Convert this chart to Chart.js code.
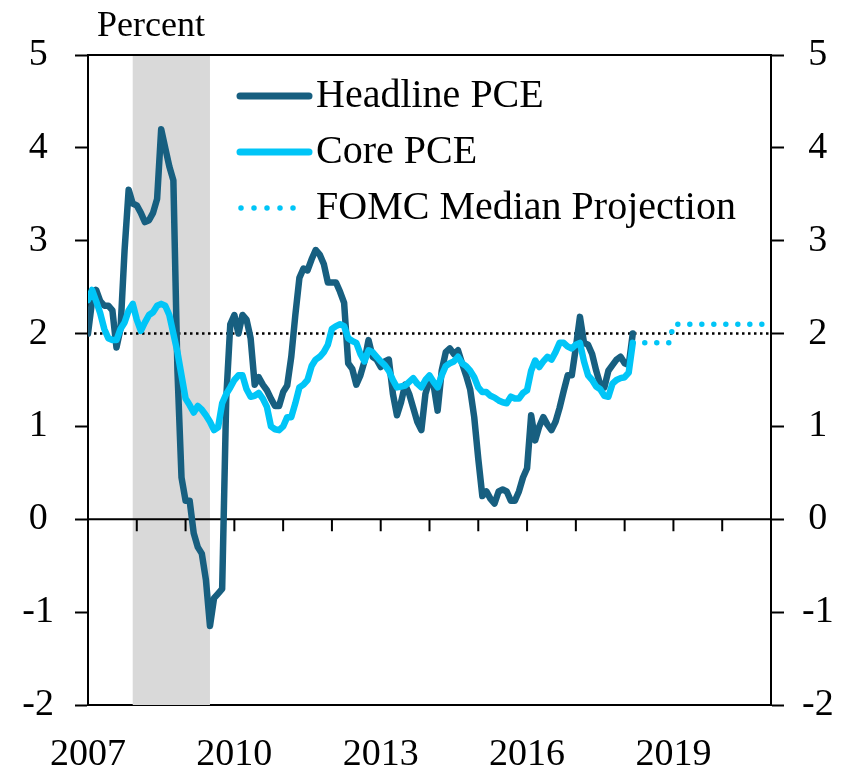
<!DOCTYPE html>
<html>
<head>
<meta charset="utf-8">
<title>PCE inflation</title>
<script src="https://cdn.jsdelivr.net/npm/chart.js@4.4.1/dist/chart.umd.min.js"></script>
<style>
  html, body { margin: 0; padding: 0; background: #fff; }
  #wrap { position: relative; width: 852px; height: 771px; }
</style>
</head>
<body>
<div id="wrap"><canvas id="chart"></canvas></div>
<script>
// monthly, 12-month percent change, starting Jan 2007
const startYear = 2007;

const headline = [
  2.0, 2.35, 2.47, 2.35, 2.3, 2.3, 2.25, 1.85, 2.05, 2.9, 3.55, 3.4,
  3.38, 3.3, 3.2, 3.22, 3.3, 3.45, 4.2, 4.0, 3.8, 3.65, 1.6, 0.45,
  0.2, 0.2, -0.15, -0.3, -0.37, -0.65, -1.15, -0.85, -0.8, -0.75, 1.3, 2.1,
  2.2, 2.0, 2.2, 2.15, 1.95, 1.45, 1.53, 1.45, 1.39, 1.3, 1.22, 1.22,
  1.37, 1.44, 1.75, 2.2, 2.6, 2.7, 2.68, 2.8, 2.9, 2.85, 2.75, 2.55,
  2.55, 2.55, 2.45, 2.33, 1.68, 1.62, 1.45, 1.55, 1.7, 1.93, 1.75, 1.72,
  1.64, 1.7, 1.72, 1.35, 1.12, 1.26, 1.45, 1.35, 1.2, 1.05, 0.96, 1.35,
  1.5, 1.45, 1.17, 1.6, 1.8, 1.84, 1.78, 1.82, 1.68, 1.55, 1.4, 1.1,
  0.65, 0.25, 0.3, 0.22, 0.17, 0.3, 0.32, 0.3, 0.2, 0.2, 0.3, 0.45,
  0.55, 1.12, 0.85, 1.0, 1.1, 1.02, 0.96, 1.05, 1.2, 1.38, 1.55, 1.55,
  1.85, 2.18, 1.9, 1.88, 1.78, 1.6, 1.45, 1.42, 1.6, 1.66, 1.72, 1.75,
  1.68, 1.66, 2.0
];

const core = [
  2.36, 2.47, 2.35, 2.22, 2.05, 1.95, 1.93, 1.93, 2.05, 2.12, 2.25, 2.32,
  2.15, 2.03, 2.12, 2.2, 2.23, 2.3, 2.32, 2.3, 2.2, 2.0, 1.8, 1.55,
  1.3, 1.23, 1.15, 1.22, 1.18, 1.12, 1.05, 0.96, 0.99, 1.25, 1.35, 1.42,
  1.5, 1.55, 1.55, 1.4, 1.32, 1.33, 1.36, 1.3, 1.21, 1.0, 0.97, 0.96,
  1.0, 1.1, 1.1, 1.25, 1.42, 1.45, 1.5, 1.65, 1.72, 1.75, 1.8, 1.88,
  2.05, 2.08, 2.1, 2.08, 1.95, 1.92, 1.9, 1.78, 1.7, 1.82, 1.8, 1.75,
  1.7, 1.66, 1.6, 1.5, 1.42, 1.43, 1.44, 1.48, 1.52, 1.46, 1.42, 1.5,
  1.55, 1.48, 1.42, 1.55, 1.65, 1.68, 1.7, 1.75, 1.68, 1.65, 1.6, 1.53,
  1.42, 1.37, 1.37, 1.33, 1.31, 1.28, 1.26, 1.25, 1.32, 1.3, 1.3, 1.36,
  1.39, 1.6, 1.71, 1.64, 1.7, 1.75, 1.72, 1.8, 1.9, 1.9, 1.86, 1.84,
  1.88, 1.9, 1.7, 1.55, 1.5, 1.43, 1.4, 1.33, 1.32, 1.46, 1.5, 1.52,
  1.53, 1.58, 1.9
];

// FOMC median projection, monthly from Mar 2018 to Jan 2021
const fomcStartMonth = 134;
const fomc = [
  1.9, 1.9, 1.9, 1.9, 1.9, 1.9, 1.9, 1.9, 1.9, 1.9,
  2.1, 2.1, 2.1, 2.1, 2.1, 2.1, 2.1, 2.1, 2.1, 2.1, 2.1, 2.1,
  2.1, 2.1, 2.1, 2.1, 2.1, 2.1, 2.1, 2.1, 2.1, 2.1, 2.1, 2.1,
  2.1
];

const targetRate = 2;
const recessionStart = 2007 + 11 / 12;  // Dec 2007
const recessionEnd = 2009.5;            // Jun 2009
const xMin = 2007;
const xMax = 2021;
const xTickLabels = [2007, 2010, 2013, 2016, 2019];
const yMin = -2;
const yMax = 5;

const seriesNames = ['Headline PCE', 'Core PCE', 'FOMC Median Projection'];

const FONT = '"Liberation Serif", "Times New Roman", serif';
const DARK = '#175f80';
const CYAN = '#00c5f7';

const toPoints = (vals, offset) => vals.map((v, i) => ({ x: startYear + (offset + i) / 12, y: v }));

const decor = {
  id: 'decor',
  beforeDatasetsDraw(chart) {
    const { ctx, chartArea } = chart;
    const { left, right, top, bottom } = chartArea;
    const xs = chart.scales.x;
    const ys = chart.scales.y;
    ctx.save();
    // recession shading
    const r0 = xs.getPixelForValue(recessionStart);
    const r1 = xs.getPixelForValue(recessionEnd);
    ctx.fillStyle = '#d9d9d9';
    ctx.fillRect(r0, top, r1 - r0, bottom - top);
    // top frame line
    ctx.strokeStyle = '#000';
    ctx.lineWidth = 2;
    ctx.beginPath();
    ctx.moveTo(left, top);
    ctx.lineTo(right, top);
    ctx.stroke();
    // zero line with yearly ticks hanging below it
    const y0 = ys.getPixelForValue(0);
    ctx.beginPath();
    ctx.moveTo(left, y0);
    ctx.lineTo(right, y0);
    xs.ticks.forEach(t => {
      const px = xs.getPixelForValue(t.value);
      ctx.moveTo(px, y0);
      ctx.lineTo(px, y0 + 12);
    });
    ctx.stroke();
    ctx.restore();
  },
  afterDatasetsDraw(chart) {
    const { ctx } = chart;
    ctx.save();
    ctx.fillStyle = '#000';
    ctx.font = '36px ' + FONT;
    ctx.textAlign = 'left';
    ctx.textBaseline = 'alphabetic';
    ctx.fillText('Percent', 97, 36);

    // legend
    const rows = [96, 152, 208];
    const styles = [
      { color: DARK, dash: [] },
      { color: CYAN, dash: [] },
      { color: CYAN, dash: [0, 13] }
    ];
    ctx.font = '40px ' + FONT;
    ctx.textBaseline = 'middle';
    rows.forEach((ry, i) => {
      ctx.strokeStyle = styles[i].color;
      ctx.lineWidth = styles[i].dash.length ? 5.5 : 7;
      ctx.lineCap = 'round';
      ctx.setLineDash(styles[i].dash);
      ctx.beginPath();
      ctx.moveTo(styles[i].dash.length ? 241 : 240, ry);
      ctx.lineTo(styles[i].dash.length ? 306 : 309, ry);
      ctx.stroke();
      ctx.setLineDash([]);
      ctx.fillStyle = '#000';
      ctx.fillText(seriesNames[i], 316, ry);
    });
    ctx.restore();
  }
};

const tickFont = { family: FONT, size: 38 };

new Chart(document.getElementById('chart'), {
  type: 'line',
  data: {
    datasets: [
      {
        label: 'target',
        data: [{ x: xMin, y: targetRate }, { x: xMax, y: targetRate }],
        borderColor: '#000',
        borderWidth: 2.5,
        borderDash: [2.5, 3.5],
        pointRadius: 0,
        order: 4
      },
      {
        label: seriesNames[2],
        data: toPoints(fomc, fomcStartMonth),
        borderColor: CYAN,
        borderWidth: 5.5,
        borderDash: [0, 12],
        borderCapStyle: 'round',
        pointRadius: 0,
        order: 3
      },
      {
        label: seriesNames[0],
        data: toPoints(headline, 0),
        borderColor: DARK,
        borderWidth: 6.5,
        borderJoinStyle: 'round',
        borderCapStyle: 'round',
        pointRadius: 0,
        order: 2
      },
      {
        label: seriesNames[1],
        data: toPoints(core, 0),
        borderColor: CYAN,
        borderWidth: 6.5,
        borderJoinStyle: 'round',
        borderCapStyle: 'round',
        pointRadius: 0,
        order: 1
      }
    ]
  },
  options: {
    responsive: true,
    maintainAspectRatio: false,
    animation: false,
    layout: { padding: { top: 55, left: 0, right: 0, bottom: 0 } },
    plugins: { legend: { display: false }, tooltip: { enabled: false } },
    elements: { line: { tension: 0 } },
    scales: {
      x: {
        type: 'linear',
        min: xMin,
        max: xMax,
        ticks: {
          stepSize: 1,
          autoSkip: false,
          maxRotation: 0,
          color: '#000',
          font: tickFont,
          padding: 27,
          callback: v => xTickLabels.includes(v) ? String(v) : ''
        },
        grid: { display: false, drawTicks: false },
        border: { display: true, color: '#000', width: 2 },
        afterFit: s => { s.height = 66; }
      },
      y: {
        position: 'left',
        min: yMin,
        max: yMax,
        ticks: { stepSize: 1, color: '#000', font: tickFont, padding: 21, crossAlign: 'center' },
        grid: { drawOnChartArea: false, drawTicks: true, tickLength: 13, tickColor: '#000', tickWidth: 2 },
        border: { display: true, color: '#000', width: 2 },
        afterFit: s => { s.width = 88; }
      },
      y2: {
        position: 'right',
        min: yMin,
        max: yMax,
        ticks: { stepSize: 1, color: '#000', font: tickFont, padding: 18, crossAlign: 'center' },
        grid: { drawOnChartArea: false, drawTicks: true, tickLength: 13, tickColor: '#000', tickWidth: 2 },
        border: { display: true, color: '#000', width: 2 },
        afterFit: s => { s.width = 81; }
      }
    }
  },
  plugins: [decor]
});
</script>
</body>
</html>
